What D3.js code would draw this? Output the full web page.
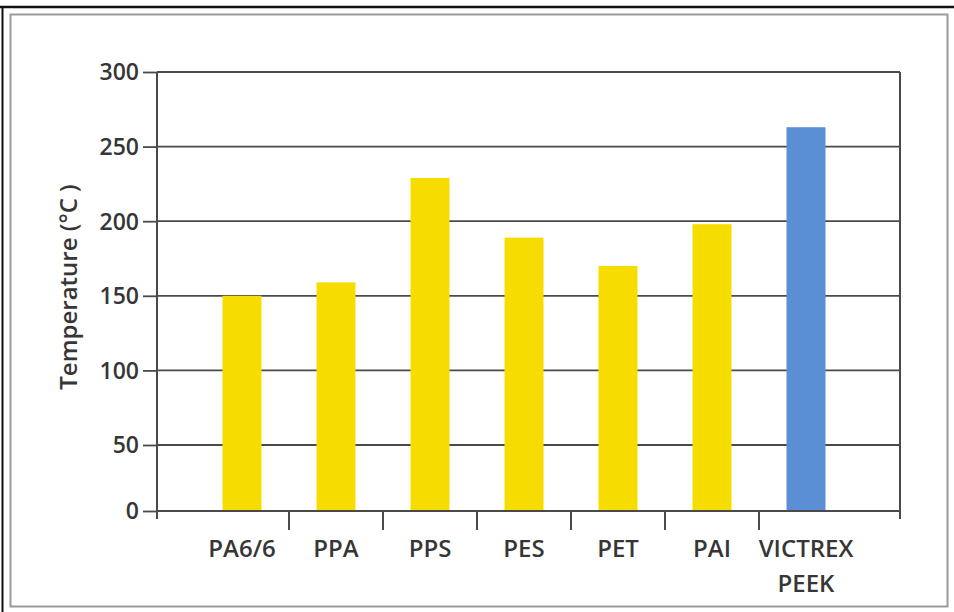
<!DOCTYPE html>
<html>
<head>
<meta charset="utf-8">
<script src="https://cdn.jsdelivr.net/npm/d3@7"></script>
<style>
  html, body { margin: 0; padding: 0; background: #fff; }
  svg { display: block; }
  text { font-family: "Open Sans", sans-serif; font-weight: 600; fill: #363636; }
</style>
</head>
<body>
<svg id="chart" width="954" height="612"></svg>
<script>
// ---- data ----
const categories = ["PA6/6", "PPA", "PPS", "PES", "PET", "PAI", "VICTREX PEEK"];
const values = [150, 159, 229, 189, 170, 198, 263];
const yTicks = [0, 50, 100, 150, 200, 250, 300];
const yTitle = "Temperature (°C )";
const highlighted = "VICTREX PEEK";

// ---- layout ----
const svg = d3.select("#chart");
const W = 954, H = 612;
const plot = { left: 157, right: 900, top: 72, bottom: 511 };

// frame
svg.append("rect").attr("x", 0).attr("y", 0).attr("width", W).attr("height", H).attr("fill", "#fff");
svg.append("rect").attr("x", 10.5).attr("y", 14.5).attr("width", 937).attr("height", 592)
  .attr("fill", "none").attr("stroke", "#9a9a9a").attr("stroke-width", 2);
svg.append("line").attr("x1", 0).attr("x2", W).attr("y1", 7).attr("y2", 7)
  .attr("stroke", "#111").attr("stroke-width", 2.5);
svg.append("line").attr("x1", 2.5).attr("x2", 2.5).attr("y1", 6).attr("y2", H)
  .attr("stroke", "#111").attr("stroke-width", 2);

// scales
const y = d3.scaleLinear().domain([0, 50, 300]).range([plot.bottom, 445, plot.top]);
const x = d3.scaleBand().domain(categories).range([195, 853]).paddingInner(0).paddingOuter(0);
const barW = x.bandwidth() * 0.415;

const gridColor = "#4a4a4a";

// gridlines
svg.append("g").selectAll("line").data(yTicks.filter(t => t > 0)).join("line")
  .attr("x1", plot.left).attr("x2", plot.right)
  .attr("y1", d => y(d)).attr("y2", d => y(d))
  .attr("stroke", gridColor).attr("stroke-width", 1.8);

// bars
svg.append("g").selectAll("rect").data(categories).join("rect")
  .attr("x", d => x(d) + (x.bandwidth() - barW) / 2)
  .attr("width", barW)
  .attr("y", (d, i) => y(values[i]))
  .attr("height", (d, i) => y(0) - y(values[i]))
  .attr("fill", d => d === highlighted ? "#5b8fd5" : "#f7dc00");

// left axis
const yAxis = svg.append("g").attr("transform", `translate(${plot.left},0)`)
  .call(d3.axisLeft(y).tickValues(yTicks).tickSize(14).tickPadding(4).tickFormat(d3.format("d")));
yAxis.select(".domain").remove();
yAxis.selectAll(".tick line").attr("stroke", gridColor).attr("stroke-width", 1.8);
yAxis.selectAll(".tick text")
  .attr("font-size", 23).attr("font-family", "Open Sans, sans-serif").attr("font-weight", 600)
  .attr("fill", "#363636").attr("dy", "0.34em");

// plot frame lines (axes)
svg.append("line").attr("x1", plot.left).attr("x2", plot.left).attr("y1", plot.top).attr("y2", plot.bottom + 8)
  .attr("stroke", gridColor).attr("stroke-width", 2);
svg.append("line").attr("x1", plot.right).attr("x2", plot.right).attr("y1", plot.top).attr("y2", plot.bottom + 8)
  .attr("stroke", gridColor).attr("stroke-width", 2);
svg.append("line").attr("x1", plot.left).attr("x2", plot.right).attr("y1", plot.bottom).attr("y2", plot.bottom)
  .attr("stroke", gridColor).attr("stroke-width", 2);

// bottom ticks at band boundaries
svg.append("g").selectAll("line").data(categories.slice(1)).join("line")
  .attr("x1", d => x(d)).attr("x2", d => x(d))
  .attr("y1", plot.bottom).attr("y2", plot.bottom + 19)
  .attr("stroke", gridColor).attr("stroke-width", 2);

// category labels
const lab = svg.append("g").selectAll("text").data(categories).join("text")
  .attr("x", d => x(d) + x.bandwidth() / 2)
  .attr("y", 557)
  .attr("text-anchor", "middle")
  .attr("font-size", 24);
lab.each(function(d) {
  const parts = d.split(" ");
  const t = d3.select(this);
  parts.forEach((p, i) => {
    t.append("tspan").attr("x", x(d) + x.bandwidth() / 2).attr("dy", i === 0 ? 0 : 35).text(p);
  });
});

// y title
svg.append("text")
  .attr("transform", "translate(77,287) rotate(-90)")
  .attr("text-anchor", "middle")
  .attr("font-size", 24)
  .text(yTitle);
</script>
</body>
</html>
